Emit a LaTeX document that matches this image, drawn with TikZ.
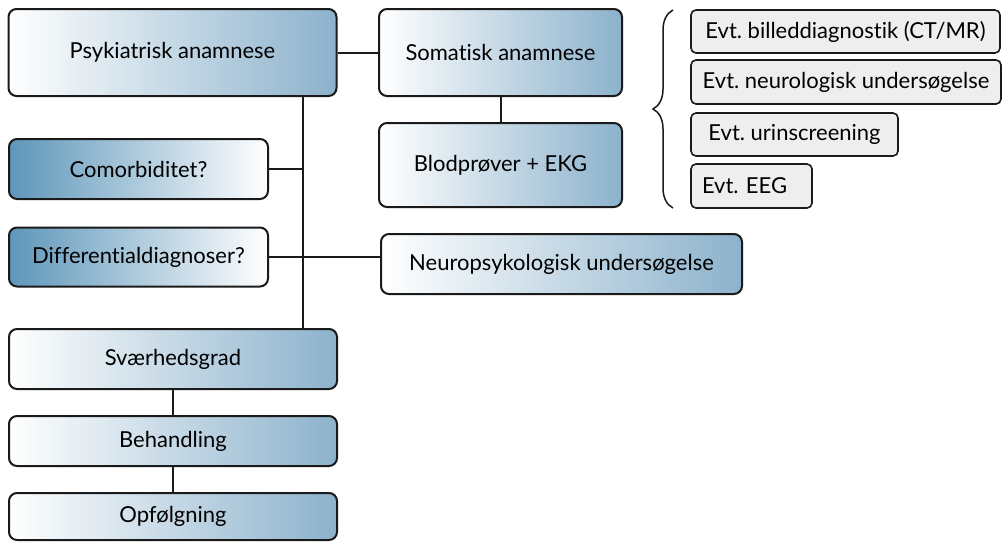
\documentclass[tikz,border=0pt]{standalone}
\usepackage{fontspec}
\setmainfont{Lato}[Ligatures=NoCommon]
\usetikzlibrary{decorations.pathreplacing}
\definecolor{bluer}{HTML}{8CB2CC}
\definecolor{bluel}{HTML}{5E96BA}
\definecolor{greyfill}{HTML}{EEEEEE}
\definecolor{edge}{HTML}{1A1A1A}
\tikzset{
  x=1pt, y=-1pt,
  bigbox/.style={draw=edge, line width=2pt, rounded corners=8pt, inner sep=0pt,
    left color=white, right color=bluer, font=\fontsize{22}{26}\selectfont},
  revbox/.style={bigbox, left color=bluel, right color=white},
  smallbox/.style={draw=edge, line width=1.6pt, rounded corners=5pt, fill=greyfill,
    inner sep=0pt, font=\fontsize{22}{26}\selectfont},
  conn/.style={draw=edge, line width=2pt},
}
\frenchspacing
\begin{document}
\begin{tikzpicture}
\useasboundingbox (0,0) rectangle (1004,542);
\node[bigbox, minimum width=328pt, minimum height=87pt] (psy) at (172.5,52.5) {Psykiatrisk anamnese};
\node[bigbox, minimum width=243pt, minimum height=87pt] (som) at (500.5,52.5) {Somatisk anamnese};
\node[bigbox, minimum width=243pt, minimum height=84pt] (blod) at (500.5,165) {Blodprøver + EKG};
\node[revbox, minimum width=259pt, minimum height=60pt] (com) at (138.5,169) {Comorbiditet?};
\node[revbox, minimum width=259pt, minimum height=59pt] (dif) at (138.5,257) {Differentialdiagnoser?};
\node[bigbox, minimum width=361pt, minimum height=60pt] (neu) at (561.5,264) {Neuropsykologisk undersøgelse};
\node[bigbox, minimum width=328pt, minimum height=60pt] (svr) at (173,359) {Sværhedsgrad};
\node[bigbox, minimum width=328pt, minimum height=50pt] (beh) at (173,441) {Behandling};
\node[bigbox, minimum width=328pt, minimum height=47pt] (opf) at (173,516.5) {Opfølgning};

\node[smallbox, minimum width=309pt, minimum height=43pt] (e1) at (845.5,31.5) {Evt. billeddiagnostik (CT/MR)};
\node[smallbox, minimum width=310pt, minimum height=44pt] (e2) at (846,82) {Evt. neurologisk undersøgelse};
\node[smallbox, minimum width=207pt, minimum height=43pt] (e3) at (794.5,134.5) {Evt. urinscreening};
\node[smallbox, minimum width=121pt, minimum height=44pt, text width=99pt, align=left] (e4) at (751.5,186) {Evt. EEG};

\coordinate (trunk) at (303,0);
\coordinate (btop) at (673,10);
\coordinate (bbot) at (673,208);

\draw[conn] (psy.east) -- (som.west);
\draw[conn] (som.south) -- (blod.north);
\draw[conn] (psy.south -| trunk) -- (svr.north -| trunk);
\draw[conn] (com.east) -- (com.east -| trunk);
\draw[conn] (dif.east) -- (dif.east -| neu.west);
\draw[conn] (svr.south) -- (beh.north);
\draw[conn] (beh.south) -- (opf.north);
\draw[draw=edge, line width=1.5pt, decorate, decoration={brace, amplitude=20pt}] (bbot) -- (btop);
\end{tikzpicture}
\end{document}
